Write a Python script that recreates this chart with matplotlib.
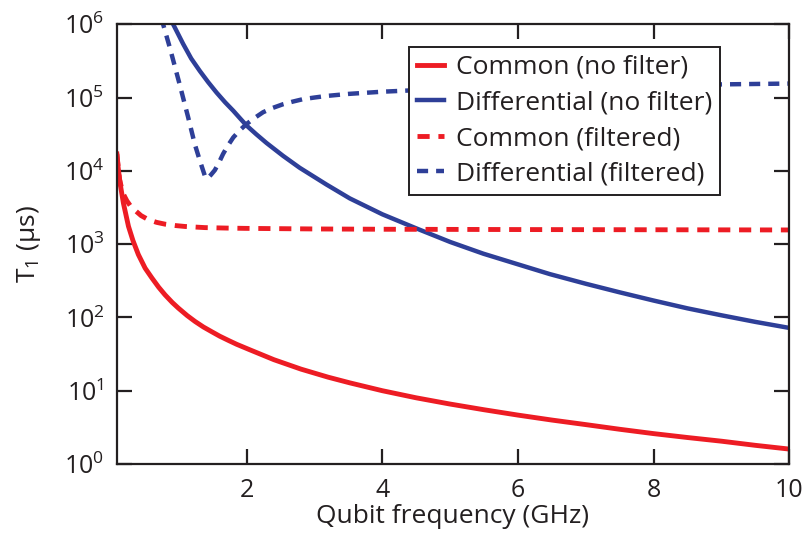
import numpy as np
import matplotlib
matplotlib.use('Agg')
import matplotlib.pyplot as plt
from matplotlib.ticker import NullLocator, LogFormatterMathtext

plt.rcParams['font.family'] = ['Open Sans', 'DejaVu Sans']
plt.rcParams['mathtext.fontset'] = 'custom'
plt.rcParams['mathtext.rm'] = 'Open Sans'
plt.rcParams['mathtext.it'] = 'Open Sans'

# valores (GHz, µs)
x_common = [0.083, 0.1, 0.13, 0.18, 0.254, 0.32, 0.4, 0.5, 0.6, 0.7, 0.794, 0.9,
            0.99, 1.12, 1.237, 1.36, 1.48, 1.6, 1.73, 1.85, 2.05, 2.4, 2.8, 3.2,
            3.52, 4.0, 4.5, 4.99, 5.5, 6.0, 6.5, 7.0, 7.5, 8.0, 8.5, 9.0, 9.5, 10]
common_nofilt = [1.7e4, 1.15e4, 6800, 3600, 1750, 1120, 720, 470, 345, 258, 203,
                 160, 134, 106, 88, 74, 64, 55.5, 48.5, 43, 36, 26.5, 19.7, 15.3,
                 12.8, 10.0, 8.0, 6.6, 5.5, 4.65, 3.98, 3.45, 2.98, 2.6, 2.3,
                 2.05, 1.8, 1.6]

x_common_f = [0.083, 0.12, 0.17, 0.23, 0.28, 0.33, 0.44, 0.55, 0.67, 0.795, 0.95,
              1.09, 1.38, 1.7, 1.97, 3, 4, 6, 8, 10]
common_filt = [1.7e4, 7800, 5000, 3900, 3350, 3000, 2450, 2150, 1980, 1870, 1790,
               1740, 1680, 1655, 1640, 1610, 1595, 1580, 1570, 1560]

x_diff = [0.88, 0.913, 1.06, 1.18, 1.307, 1.43, 1.553, 1.68, 1.8, 1.9, 1.996, 2.14,
          2.29, 2.535, 2.78, 3.175, 3.52, 4.0, 4.5, 5.0, 5.49, 6.0, 6.47, 7.0,
          7.5, 8.0, 8.5, 9.0, 9.5, 10]
diff_nofilt = [1.15e6, 1e6, 5.4e5, 3.4e5, 2.3e5, 1.62e5, 1.17e5, 8.6e4, 6.6e4,
               5.2e4, 4.15e4, 3.15e4, 2.4e4, 1.6e4, 1.1e4, 6.5e3, 4.2e3, 2.55e3,
               1.64e3, 1.07e3, 740, 530, 390, 288, 220, 170, 133, 107, 87, 72]

x_diff_f = [0.74, 0.765, 0.864, 1.01, 1.134, 1.233, 1.307, 1.38, 1.415, 1.47,
            1.528, 1.59, 1.65, 1.72, 1.8, 1.9, 1.996, 2.12, 2.24, 2.38, 2.535,
            2.68, 2.83, 3.0, 3.175, 3.5, 4.0, 4.5, 5, 6, 7, 8, 9, 10]
diff_filt = [1.25e6, 1e6, 4.8e5, 1.5e5, 5.4e4, 2.3e4, 1.38e4, 8.6e3, 7.8e3, 8.8e3,
             1.02e4, 1.3e4, 1.7e4, 2.2e4, 2.85e4, 3.6e4, 4.35e4, 5.3e4, 6.3e4,
             7.2e4, 8.1e4, 8.8e4, 9.5e4, 1.0e5, 1.05e5, 1.12e5, 1.2e5, 1.26e5,
             1.31e5, 1.38e5, 1.43e5, 1.47e5, 1.51e5, 1.55e5]

rojo = '#ed1c24'
azul = '#2e3f98'
negro = '#231f20'
dash = (0, (2.5, 1.8))

fig = plt.figure(figsize=(8.06, 5.38), dpi=100)
ax = fig.add_axes([0.145, 0.1375, 0.834, 0.8175])

ax.plot(x_common, common_nofilt, color=rojo, lw=3.5, label='Common (no filter)')
ax.plot(x_diff, diff_nofilt, color=azul, lw=3.2, label='Differential (no filter)')
ax.plot(x_common_f, common_filt, color=rojo, lw=3.5, ls=dash, label='Common (filtered)')
ax.plot(x_diff_f, diff_filt, color=azul, lw=3.2, ls=dash, label='Differential (filtered)')

ax.set_yscale('log')
ax.set_xlim(0.083, 10)
ax.set_ylim(1, 1e6)
ax.set_xticks([2, 4, 6, 8, 10])
ax.set_yticks([1, 10, 100, 1e3, 1e4, 1e5, 1e6])
ax.yaxis.set_major_formatter(LogFormatterMathtext())
ax.yaxis.set_minor_locator(NullLocator())
ax.tick_params(direction='in', length=11, width=1.6, labelsize=18,
               top=True, right=True, colors=negro)
ax.tick_params(axis='x', pad=10)
ax.tick_params(axis='y', pad=9)
for s in ax.spines.values():
    s.set_linewidth(1.6)
    s.set_color(negro)

ax.set_xlabel('Qubit frequency (GHz)', fontsize=19, labelpad=1, color=negro)
ax.set_ylabel('T$_1$ (µs)', fontsize=19, labelpad=15, color=negro)

leg = ax.legend(loc='upper right', bbox_to_anchor=(0.897, 0.948), fontsize=19,
                frameon=True, fancybox=False, handlelength=1.0, handletextpad=0.45,
                labelspacing=0.4, borderpad=0.3, borderaxespad=0)
leg.get_frame().set_edgecolor(negro)
leg.get_frame().set_linewidth(1.4)
leg.get_frame().set_alpha(1)
for t in leg.get_texts():
    t.set_color(negro)

plt.savefig('out.png', dpi=100)
